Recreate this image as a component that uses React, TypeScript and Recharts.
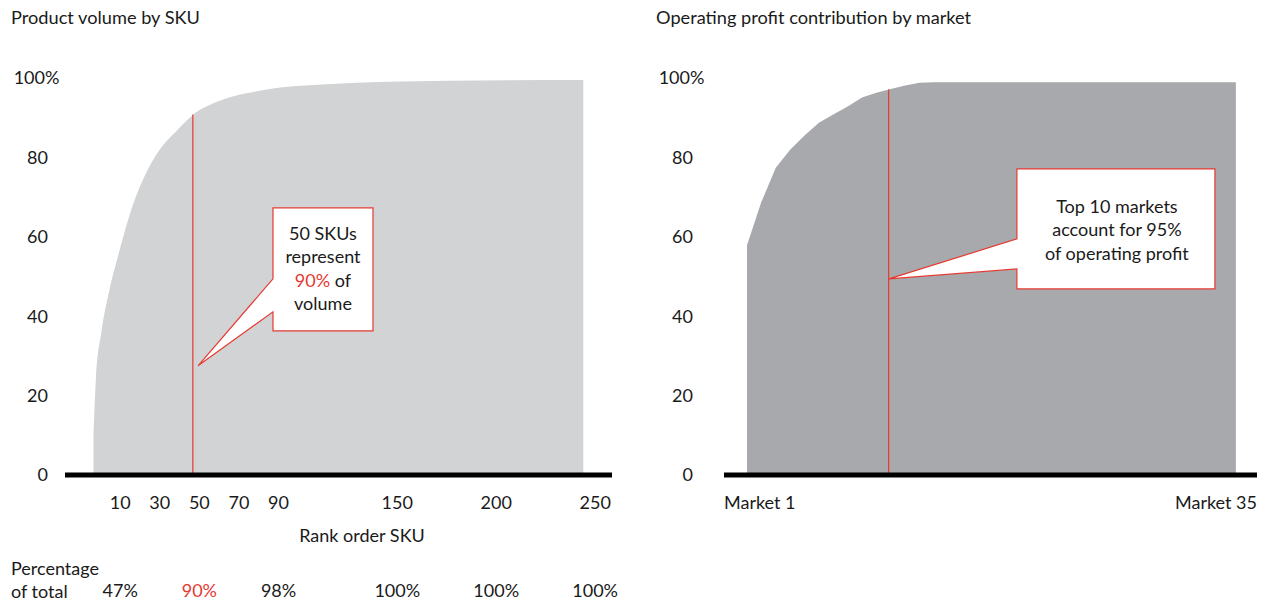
import React from 'react';
import { AreaChart, Area, XAxis, YAxis, ReferenceLine, ReferenceDot } from 'recharts';

const FONT = 'Lato, "Noto Sans", sans-serif';
const RED = '#e63a32';
const LIGHT_GRAY = '#d1d3d4';
const DARK_GRAY = '#a7a9ac';
const INK = '#1a1a1a';

// ---------- Left chart: product volume by SKU ----------
const skuRanks = [-3.5, -2.3, 0.5, 4.5, 8.8, 16.4, 23.5, 30, 38.7, 46.7, 58.9, 80.6, 114, 176, 244];
const skuCumulative = [10, 24, 36, 46.5, 55, 68, 76.5, 82, 86.8, 90.7, 94, 96.8, 98.4, 99.3, 99.5];
const rankTicks = [10, 30, 50, 70, 90, 150, 200, 250];
const shareRanks = [10, 50, 90, 150, 200, 250];
const shareLabels = ['47%', '90%', '98%', '100%', '100%', '100%'];
const highlightRank = 50;
const skuMarkerRank = 46.7;
const skuMarkerValue = 90.8;
const skuCalloutAt = { rank: 49.3, value: 27.5 };

// ---------- Right chart: operating profit by market ----------
const marketIndex = Array.from({ length: 35 }, (_, i) => i + 1);
const marketCumulative = [57.9, 68.8, 77.4, 81.9, 85.5, 88.7, 90.8, 92.8, 95.1, 96.3, 97.2, 98.1, 98.8,
  98.9, 98.9, 98.9, 98.9, 98.9, 98.9, 98.9, 98.9, 98.9, 98.9, 98.9, 98.9, 98.9, 98.9, 98.9, 98.9, 98.9, 98.9, 98.9, 98.9, 98.9, 98.9];
const marketTickLabels = ['Market 1', 'Market 35'];
const marketMarker = 10.85;
const marketMarkerValue = 97.1;
const marketCalloutAt = { market: 10.87, value: 49.4 };

const yTicks = [0, 20, 40, 60, 80, 100];
const skuDomain: [number, number] = [-17.9, 258.5];
const marketDomain: [number, number] = [-0.6, 36.47];

const skuData = skuRanks.map((r, i) => ({ rank: r, share: skuCumulative[i] }));
const marketData = marketIndex.map((m, i) => ({ market: m, share: marketCumulative[i] }));

const textStyle = { fontFamily: FONT, fontSize: 18, fill: INK };

const PctTick = (props: any) => {
  const { x, y, payload } = props;
  if (payload.value === 100) {
    return (
      <g>
        <text x={x - 3} y={y} dy="0.36em" textAnchor="end" {...textStyle}>100</text>
        <text x={x - 3} y={y} dy="0.36em" textAnchor="start" {...textStyle}>%</text>
      </g>
    );
  }
  return <text x={x} y={y} dy="0.36em" textAnchor="end" {...textStyle}>{payload.value}</text>;
};

const SkuTick = (props: any) => {
  const { x, y, payload } = props;
  const idx = shareRanks.indexOf(payload.value);
  return (
    <g>
      <text x={x} y={y + 34} textAnchor="middle" {...textStyle}>{payload.value}</text>
      {idx >= 0 && (
        <text x={x} y={y + 122} textAnchor="middle" {...textStyle} fill={payload.value === highlightRank ? RED : INK}>
          {shareLabels[idx]}
        </text>
      )}
    </g>
  );
};

const MarketTick = (props: any) => {
  const { x, y, index } = props;
  return (
    <text x={x} y={y + 34} textAnchor={index === 0 ? 'start' : 'end'} {...textStyle}>
      {marketTickLabels[index]}
    </text>
  );
};

type Seg = { t: string; red?: boolean };

const Callout = (props: any) => {
  const { cx, cy, box, attach, lines, textDx } = props;
  const [bx1, by1, bx2, by2] = box;
  const d = `M${cx + bx1},${cy + by1} L${cx + bx2},${cy + by1} L${cx + bx2},${cy + by2} L${cx + bx1},${cy + by2} L${cx + bx1},${cy + attach[1]} L${cx},${cy} L${cx + bx1},${cy + attach[0]} Z`;
  return (
    <g>
      <path d={d} fill="#fff" stroke={RED} strokeWidth={1.2} strokeLinejoin="miter" />
      {lines.map((ln: { dy: number; segs: Seg[] }, i: number) => (
        <text key={i} x={cx + textDx} y={cy + ln.dy} textAnchor="middle" {...textStyle}>
          {ln.segs.map((s, j) => (
            <tspan key={j} fill={s.red ? RED : INK}>{s.t}</tspan>
          ))}
        </text>
      ))}
    </g>
  );
};

const skuCalloutLines = [
  { dy: -126, segs: [{ t: '50 SKUs' }] },
  { dy: -103, segs: [{ t: 'represent' }] },
  { dy: -79, segs: [{ t: '90%', red: true }, { t: '\u00a0of' }] },
  { dy: -56, segs: [{ t: 'volume' }] },
];

const marketCalloutLines = [
  { dy: -66, segs: [{ t: 'Top 10 markets' }] },
  { dy: -43, segs: [{ t: 'account for 95%' }] },
  { dy: -19, segs: [{ t: 'of operating profit' }] },
];

export default function App() {
  return (
    <div style={{ position: 'absolute', left: 0, top: 0, width: 1262, height: 602, background: '#fff', fontFamily: FONT }}>
      <div style={{ position: 'absolute', left: 0, top: 0 }}>
        <AreaChart width={631} height={602} data={skuData} margin={{ top: 78, right: 19, bottom: 0, left: 0 }}>
          <XAxis
            type="number"
            dataKey="rank"
            domain={skuDomain}
            allowDataOverflow
            ticks={rankTicks}
            interval={0}
            tickLine={false}
            tickSize={0}
            tickMargin={0}
            axisLine={{ stroke: '#000', strokeWidth: 5 }}
            height={127}
            tick={<SkuTick />}
          />
          <YAxis
            type="number"
            domain={[0, 100]}
            ticks={yTicks}
            interval={0}
            width={65}
            axisLine={false}
            tickLine={false}
            tickSize={0}
            tickMargin={17}
            tick={<PctTick />}
          />
          <Area type="monotone" dataKey="share" fill={LIGHT_GRAY} fillOpacity={1} stroke="none" isAnimationActive={false} dot={false} activeDot={false} />
          <ReferenceLine segment={[{ x: skuMarkerRank, y: 0 }, { x: skuMarkerRank, y: skuMarkerValue }]} stroke={RED} strokeWidth={1.2} />
          <ReferenceDot
            x={skuCalloutAt.rank}
            y={skuCalloutAt.value}
            r={1}
            shape={(p: any) => (
              <Callout cx={p.cx} cy={p.cy} box={[75, -158, 175, -35]} attach={[-87, -54]} textDx={125} lines={skuCalloutLines} />
            )}
          />
        </AreaChart>
      </div>
      <div style={{ position: 'absolute', left: 631, top: 0 }}>
        <AreaChart width={631} height={602} data={marketData} margin={{ top: 78, right: 5, bottom: 0, left: 0 }}>
          <XAxis
            type="number"
            dataKey="market"
            domain={marketDomain}
            allowDataOverflow
            ticks={marketDomain}
            interval={0}
            tickLine={false}
            tickSize={0}
            tickMargin={0}
            axisLine={{ stroke: '#000', strokeWidth: 5 }}
            height={127}
            tick={<MarketTick />}
          />
          <YAxis
            type="number"
            domain={[0, 100]}
            ticks={yTicks}
            interval={0}
            width={93}
            axisLine={false}
            tickLine={false}
            tickSize={0}
            tickMargin={31}
            tick={<PctTick />}
          />
          <Area type="linear" dataKey="share" fill={DARK_GRAY} fillOpacity={1} stroke="none" isAnimationActive={false} dot={false} activeDot={false} />
          <ReferenceLine segment={[{ x: marketMarker, y: 0 }, { x: marketMarker, y: marketMarkerValue }]} stroke={RED} strokeWidth={1.2} />
          <ReferenceDot
            x={marketCalloutAt.market}
            y={marketCalloutAt.value}
            r={1}
            shape={(p: any) => (
              <Callout cx={p.cx} cy={p.cy} box={[128, -110, 326, 10]} attach={[-40, -10]} textDx={228} lines={marketCalloutLines} />
            )}
          />
        </AreaChart>
      </div>
      <svg width={1262} height={602} style={{ position: 'absolute', left: 0, top: 0, pointerEvents: 'none' }}>
        <text x={11} y={24} fontFamily={FONT} fontSize={18.2} fill={INK}>Product volume by SKU</text>
        <text x={656} y={24} fontFamily={FONT} fontSize={18.2} fill={INK}>Operating profit contribution by market</text>
        <text x={362} y={542} textAnchor="middle" {...textStyle}>Rank order SKU</text>
        <text x={11} y={575} {...textStyle}>Percentage</text>
        <text x={11} y={598} {...textStyle}>of total</text>
      </svg>
    </div>
  );
}
